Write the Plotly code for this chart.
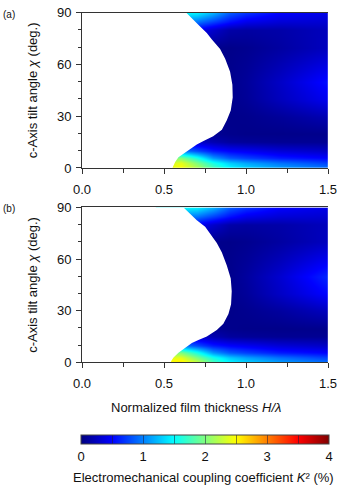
import plotly.graph_objects as go

# film thickness H/lambda and tilt angle chi of the sampled field
thickness = [0.5, 0.6, 0.7, 0.8, 0.9, 1.0, 1.2, 1.5]
tilt = [0, 3, 6, 10, 15, 20, 30, 40, 50, 60, 70, 80, 85, 90]

# K^2 (%)
k2_a = [
    [2.4, 2.5, 2.2, 1.8, 1.5, 1.35, 1.15, 0.95],
    [2.3, 2.4, 2.0, 1.6, 1.3, 1.15, 0.95, 0.75],
    [2.0, 2.0, 1.6, 1.1, 0.85, 0.75, 0.6, 0.5],
    [1.0, 1.0, 0.8, 0.6, 0.5, 0.45, 0.35, 0.28],
    [0.4, 0.4, 0.3, 0.2, 0.12, 0.1, 0.08, 0.08],
    [0.15, 0.15, 0.12, 0.08, 0.05, 0.04, 0.04, 0.05],
    [0.05, 0.05, 0.05, 0.05, 0.04, 0.05, 0.1, 0.2],
    [0.05, 0.05, 0.05, 0.05, 0.05, 0.09, 0.24, 0.45],
    [0.05, 0.05, 0.05, 0.05, 0.05, 0.1, 0.27, 0.55],
    [0.05, 0.05, 0.05, 0.05, 0.05, 0.08, 0.2, 0.4],
    [0.08, 0.08, 0.06, 0.05, 0.04, 0.06, 0.13, 0.25],
    [0.5, 0.5, 0.45, 0.3, 0.16, 0.14, 0.16, 0.24],
    [1.0, 1.0, 0.95, 0.75, 0.55, 0.42, 0.34, 0.32],
    [1.5, 1.5, 1.45, 1.2, 0.85, 0.7, 0.5, 0.4],
]

# K^2 (%)
k2_b = [
    [2.5, 2.6, 2.3, 1.8, 1.5, 1.35, 1.15, 0.95],
    [2.4, 2.4, 2.0, 1.6, 1.3, 1.15, 0.95, 0.75],
    [2.0, 2.0, 1.6, 1.1, 0.85, 0.75, 0.6, 0.5],
    [1.0, 1.0, 0.8, 0.6, 0.5, 0.45, 0.35, 0.28],
    [0.4, 0.4, 0.3, 0.2, 0.12, 0.1, 0.08, 0.08],
    [0.15, 0.15, 0.12, 0.08, 0.05, 0.04, 0.04, 0.05],
    [0.05, 0.05, 0.05, 0.05, 0.04, 0.06, 0.12, 0.25],
    [0.05, 0.05, 0.05, 0.05, 0.05, 0.1, 0.27, 0.52],
    [0.05, 0.05, 0.05, 0.05, 0.05, 0.12, 0.31, 0.65],
    [0.05, 0.05, 0.05, 0.05, 0.05, 0.09, 0.22, 0.45],
    [0.08, 0.08, 0.06, 0.05, 0.04, 0.06, 0.13, 0.25],
    [0.5, 0.5, 0.45, 0.3, 0.16, 0.14, 0.16, 0.24],
    [1.0, 1.0, 0.95, 0.75, 0.55, 0.42, 0.34, 0.32],
    [1.5, 1.5, 1.45, 1.2, 0.85, 0.7, 0.5, 0.4],
]

# edge of the blank (no solution) region
edge_chi_a = [0, 0.6, 3.4, 6.2, 9.0, 11.8, 13.6, 15.6, 18.4, 22.1, 27.7, 33.3, 40.8,
              48.3, 55.8, 63.3, 68.9, 74.5, 78.2, 82.0, 85.7, 90]
edge_h_a = [0.552, 0.554, 0.568, 0.588, 0.629, 0.67, 0.70, 0.741, 0.80, 0.853, 0.883, 0.907, 0.919,
            0.917, 0.903, 0.873, 0.842, 0.792, 0.761, 0.72, 0.68, 0.636]

edge_chi_b = [0, 0.9, 2.8, 5.6, 8.4, 11.3, 13.1, 15.0, 18.8, 22.5, 28.1, 33.8, 41.3,
              48.8, 56.3, 63.8, 69.4, 75.0, 78.8, 82.5, 86.3, 90]
edge_h_b = [0.542, 0.544, 0.558, 0.588, 0.629, 0.67, 0.71, 0.761, 0.822, 0.862, 0.893, 0.909, 0.913,
            0.907, 0.883, 0.853, 0.822, 0.781, 0.751, 0.70, 0.66, 0.619]

jet = [
    [0.0, "rgb(0,0,128)"],
    [0.125, "rgb(0,0,255)"],
    [0.375, "rgb(0,255,255)"],
    [0.625, "rgb(255,255,0)"],
    [0.875, "rgb(255,0,0)"],
    [1.0, "rgb(128,0,0)"],
]

font = "Liberation Sans, Arial, sans-serif"
axcol = "#333333"

fig = go.Figure()

panels = [("x", "y", k2_a, edge_chi_a, edge_h_a), ("x2", "y2", k2_b, edge_chi_b, edge_h_b)]
for xa, ya, z, echi, eh in panels:
    fig.add_trace(
        go.Heatmap(
            x=thickness,
            y=tilt,
            z=z,
            coloraxis="coloraxis",
            zsmooth="best",
            xaxis=xa,
            yaxis=ya,
            hoverinfo="skip",
        )
    )
    # white mask for the blank region
    fig.add_trace(
        go.Scatter(
            x=[0] + eh + [0],
            y=[0] + echi + [90],
            fill="toself",
            fillcolor="white",
            mode="lines",
            line=dict(width=0, color="white"),
            xaxis=xa,
            yaxis=ya,
            showlegend=False,
            hoverinfo="skip",
        )
    )

xcommon = dict(
    range=[0, 1.5],
    dtick=0.5,
    tickformat=".1f",
    ticks="outside",
    ticklen=5,
    tickcolor=axcol,
    showline=True,
    linecolor=axcol,
    linewidth=1,
    mirror=True,
    showgrid=False,
    zeroline=False,
    ticklabelstandoff=4,
    minor=dict(dtick=0.25, ticks="outside", ticklen=4, tickcolor=axcol),
    tickfont=dict(size=13, color="#111"),
)
ycommon = dict(
    range=[0, 90],
    tickvals=[0, 30, 60, 90],
    ticks="outside",
    ticklen=5,
    tickcolor=axcol,
    showline=True,
    linecolor=axcol,
    linewidth=1,
    showgrid=False,
    zeroline=False,
    ticklabelstandoff=2,
    minor=dict(dtick=10, ticks="outside", ticklen=3, tickcolor=axcol),
    tickfont=dict(size=13, color="#111"),
    title=dict(
        text="c-Axis tilt angle <i>χ</i> (deg.)",
        font=dict(size=13, color="#111"),
        standoff=16,
    ),
)

fig.update_layout(
    width=349,
    height=492,
    margin=dict(l=82, r=21, t=5, b=5),
    paper_bgcolor="white",
    plot_bgcolor="white",
    font=dict(family=font, color="#111"),
    showlegend=False,
    xaxis=dict(xcommon, anchor="y", domain=[0, 1]),
    yaxis=dict(ycommon, anchor="x", domain=[0.666, 0.9985]),
    xaxis2=dict(xcommon, anchor="y2", domain=[0, 1]),
    yaxis2=dict(ycommon, anchor="x2", domain=[0.2496, 0.5815]),
    coloraxis=dict(
        colorscale=jet,
        cmin=0,
        cmax=4,
        colorbar=dict(
            orientation="h",
            lenmode="pixels",
            len=248,
            thickness=9,
            x=0.5,
            xanchor="center",
            y=0.094,
            yanchor="top",
            xpad=0,
            ypad=0,
            outlinewidth=1,
            outlinecolor="#444",
            tickvals=[0, 0.5, 1, 1.5, 2, 2.5, 3, 3.5, 4],
            ticktext=["0", "", "1", "", "2", "", "3", "", "4"],
            ticks="inside",
            ticklen=9,
            tickwidth=1,
            tickcolor="rgba(30,30,60,0.55)",
            tickfont=dict(size=13, color="#111"),
        ),
    ),
    annotations=[
        dict(text="(a)", x=-0.33, y=0.994, xref="paper", yref="paper",
             xanchor="left", yanchor="middle", showarrow=False, font=dict(size=10)),
        dict(text="(b)", x=-0.33, y=0.579, xref="paper", yref="paper",
             xanchor="left", yanchor="middle", showarrow=False, font=dict(size=10)),
        dict(text="Normalized film thickness <i>H/λ</i>", x=0.463, y=0.154,
             xref="paper", yref="paper", xanchor="center", yanchor="middle",
             showarrow=False, font=dict(size=13, color="#111")),
        dict(text="Electromechanical coupling coefficient <i>K</i>² (%)", x=0.492, y=0.004,
             xref="paper", yref="paper", xanchor="center", yanchor="middle",
             showarrow=False, font=dict(size=13, color="#111")),
    ],
)

# page has a default body margin; drop it so the figure sits at the corner
fig.write_html(
    "out.html",
    config={"displayModeBar": False},
    post_script="document.body.style.margin='0';",
)
